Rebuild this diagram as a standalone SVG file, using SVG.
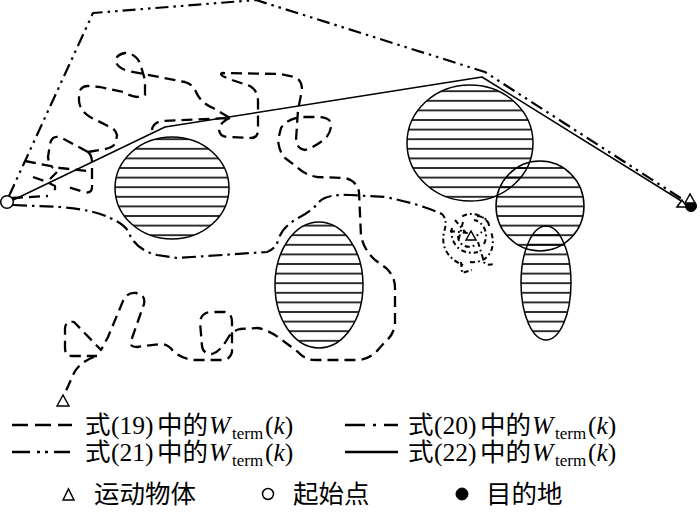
<svg xmlns="http://www.w3.org/2000/svg" width="700" height="516" viewBox="0 0 700 516">
<style>
.obst{fill:url(#hatch);stroke:#000;stroke-width:1.5}
.ln{fill:none;stroke:#000;stroke-linecap:butt;stroke-linejoin:round}
.p19{stroke-width:2.3;stroke-dasharray:11 6}
.p20{stroke-width:2.2;stroke-dasharray:14 5 2.5 5}
.p20s{stroke-width:2;stroke-dasharray:5 3 1.8 3}
.p21{stroke-width:2.2;stroke-dasharray:13 5 2.5 5 2.5 5}
.p22{stroke-width:1.5}
.lgl{fill:none;stroke:#000;stroke-width:2.6}
.open{fill:#fff;stroke:#000;stroke-width:1.5}
.fill{fill:#000;stroke:#000;stroke-width:1}
.lg{font-family:"Liberation Serif","Noto Sans CJK SC",serif;font-size:25.5px;fill:#000}
.it{font-style:italic}
.sub{font-size:17px}
</style>
<defs>
<pattern id="hatch" patternUnits="userSpaceOnUse" width="20" height="9.6">
<line x1="0" y1="4.8" x2="20" y2="4.8" stroke="#000" stroke-width="1.6"/>
</pattern>
</defs>
<g id="obstacles">
<ellipse id="obstacle1" class="obst" cx="172" cy="188" rx="57" ry="51"/>
<ellipse id="obstacle2" class="obst" cx="319" cy="285" rx="44" ry="63"/>
<ellipse id="obstacle3" class="obst" cx="470" cy="143" rx="63" ry="58"/>
<ellipse id="obstacle4" class="obst" cx="540" cy="206" rx="44" ry="45"/>
<ellipse id="obstacle5" class="obst" cx="546" cy="283" rx="25" ry="57"/>
</g>
<g id="connectors">
<path id="path19" class="ln p19" d="M12,198 L48,196 M33,177 L47,182 L55,186 L55,196 M50,179 L57,172 M25,161 L60,168 L88,171 M88,152 Q92,155 92,163 L92,188 Q91,194 84,192 L68,187 M88,152 L62,138 Q52,134 50,144 L48,157 Q49,165 53,168 M88,152 L100,150 Q114,148 116,142 L117,135 Q115,128 108,126 L90,117 Q80,111 79,101 L79,93 Q81,86 88,86 L100,87 L123,92 Q130,96 137,97 L145,95 L145,80 L140,63 Q135,53 125,53 Q115,55 116,62 Q118,68 128,71 L185,82 Q194,85 196,92 Q201,103 213,108 L230,118 M152,130 Q153,122 163,121 L228,118 M230,118 Q220,122 219,130 Q220,137 228,137 L252,138 Q258,137 258,130 L258,100 Q257,90 250,86 L232,80 Q218,75 222,73 L280,74 L295,77 Q302,80 302,90 L298,110 L296,140 Q297,149 305,150 Q315,147 326,138 Q332,130 331,123 Q329,117 318,117 L300,117 Q287,119 281,128 L278,140 Q279,152 285,158 L297,167 Q305,175 317,177 L345,178 Q357,181 359,192 L361,236 Q364,250 375,260 L386,268 Q395,276 395,288 L395,325 Q393,336 384,343 L376,352 Q368,360 356,360 L315,360 Q305,360 298,352 L278,337 Q268,330 258,328 L240,329 Q232,331 228,338 Q220,352 212,354 Q203,354 202,346 L200,322 Q201,313 210,312 L225,312 Q232,313 232,322 L232,352 Q230,360 222,360 L195,360 Q182,359 173,351 Q168,344 160,344 L137,347 Q129,347 131,341 L144,304 Q146,295 136,293 Q127,292 123,301 L108,337 L101,350 L74,322 Q66,320 65,328 L65,348 Q65,356 72,356 L97,356 M94,357 Q80,362 74,373 L65,393"/>
<path id="path20" class="ln p20" d="M13,205 L60,207 Q95,210 110,218 Q125,224 129,233 Q136,250 157,255 L177,258 L267,252 Q276,249 279,238 Q283,226 300,217 Q313,210 320,201 Q328,194 350,195 L385,197 Q420,204 442,214"/>
<path id="path20-end" class="ln p20s" d="M442,214 Q448,220 444,232 C440,250 452,262 466,266 M470,262 C488,264 497,248 491,232 M489,224 C482,212 466,212 460,218 M452,228 C449,244 462,256 478,252 M484,244 C489,234 484,222 474,220 M458,236 C458,246 470,250 476,244 M455,220 L466,233 M450,231 L468,233 M463,222 L458,242 M478,242 L484,262 Q486,266 494,264 M461,262 L462,273 L472,270 M477,216 Q488,217 489,226 M470,240 L482,232"/>
<path id="path21" class="ln p21" d="M9,196 L93,13 L256,0 L485,72 L682,199"/>
<path id="path22" class="ln p22" d="M7,203 L165,127 L482,77 L683,202"/>
</g>
<g id="start"><circle class="open" cx="7" cy="202" r="6.3"/></g>
<g id="destination"><circle class="fill" cx="691" cy="206" r="5.5"/></g>
<g id="object19"><polygon class="open" points="57,406 63,395 69,406"/></g>
<g id="object20"><polygon class="open" points="466,240 471,231 476,240"/></g>
<g id="object22"><polygon class="open" points="677,207 682,200 687,207"/></g>
<g id="object21"><polygon class="open" points="685,203 690,194 695,203"/></g>
<g id="legend">
<path class="lgl" d="M12,425 L72,425" stroke-dasharray="16 7"/>
<path class="lgl" d="M345,425 L398,425" stroke-dasharray="20 8 3 8"/>
<path class="lgl" d="M12,452 L70,452" stroke-dasharray="18 7 3 5 3 6"/>
<path class="lgl" d="M345,452 L398,452" stroke-width="1.8"/>
<text class="lg" y="434"><tspan x="85">式</tspan><tspan x="111">(19)</tspan><tspan x="157">中的</tspan><tspan x="209" class="it">W</tspan><tspan x="232" class="sub" dy="5">term</tspan><tspan x="265" dy="-5">(</tspan><tspan class="it">k</tspan><tspan>)</tspan></text>
<text class="lg" y="434"><tspan x="408">式</tspan><tspan x="434">(20)</tspan><tspan x="480">中的</tspan><tspan x="532" class="it">W</tspan><tspan x="555" class="sub" dy="5">term</tspan><tspan x="588" dy="-5">(</tspan><tspan class="it">k</tspan><tspan>)</tspan></text>
<text class="lg" y="461"><tspan x="85">式</tspan><tspan x="111">(21)</tspan><tspan x="157">中的</tspan><tspan x="209" class="it">W</tspan><tspan x="232" class="sub" dy="5">term</tspan><tspan x="265" dy="-5">(</tspan><tspan class="it">k</tspan><tspan>)</tspan></text>
<text class="lg" y="461"><tspan x="408">式</tspan><tspan x="434">(22)</tspan><tspan x="480">中的</tspan><tspan x="532" class="it">W</tspan><tspan x="555" class="sub" dy="5">term</tspan><tspan x="588" dy="-5">(</tspan><tspan class="it">k</tspan><tspan>)</tspan></text>
<polygon class="open" points="63,500 68.5,489 74,500"/>
<text class="lg" x="94" y="503">运动物体</text>
<circle class="open" cx="268" cy="494" r="5.5"/>
<text class="lg" x="293" y="503">起始点</text>
<circle class="fill" cx="462" cy="494" r="6"/>
<text class="lg" x="486" y="503">目的地</text>
</g>
</svg>
